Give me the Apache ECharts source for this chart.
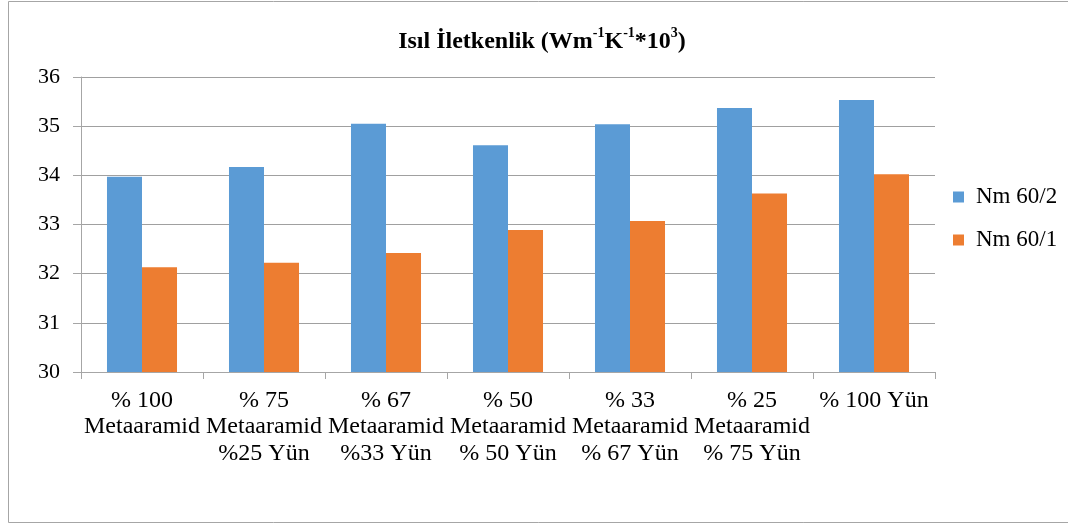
<!DOCTYPE html>
<html>
<head>
<meta charset="utf-8">
<script src="https://cdn.jsdelivr.net/npm/echarts@6/dist/echarts.min.js"></script>
<style>
html,body{margin:0;padding:0;background:#fff;}
#c{width:1068px;height:525px;}
</style>
</head>
<body>
<div id="c"></div>
<script>
const categories = [
  "% 100\nMetaaramid",
  "% 75\nMetaaramid\n%25 Yün",
  "% 67\nMetaaramid\n%33 Yün",
  "% 50\nMetaaramid\n% 50 Yün",
  "% 33\nMetaaramid\n% 67 Yün",
  "% 25\nMetaaramid\n% 75 Yün",
  "% 100 Yün"
];
const seriesNames = ["Nm 60/2", "Nm 60/1"];
const nm602 = [33.97, 34.17, 35.05, 34.61, 35.04, 35.37, 35.53];
const nm601 = [32.13, 32.22, 32.42, 32.89, 33.07, 33.63, 34.02];
const yTicks = { min: 30, max: 36, interval: 1 };

const font = "'Liberation Serif', 'Times New Roman', serif";
const chart = echarts.init(document.getElementById('c'));
chart.setOption({
  backgroundColor: '#fff',
  animation: false,
  textStyle: { fontFamily: font },
  graphic: [{
    type: 'rect',
    shape: { x: 8.5, y: 1.5, width: 1080, height: 521 },
    style: { fill: 'none', stroke: '#a6a6a6', lineWidth: 1 },
    silent: true
  }],
  title: {
    text: '{b|Isıl İletkenlik (Wm}{s|-1}{b|K}{s|-1}{b|*10}{s|3}{b|)}',
    left: 537,
    textAlign: 'center',
    top: 21,
    textStyle: {
      rich: {
        b: { fontFamily: font, fontWeight: 'bold', fontSize: 24, color: '#000', lineHeight: 28, verticalAlign: 'bottom' },
        s: { fontFamily: font, fontWeight: 'bold', fontSize: 14, color: '#000', lineHeight: 28, verticalAlign: 'top', padding: [0, 0, 5, 0] }
      }
    }
  },
  legend: {
    orient: 'vertical',
    left: 948,
    top: 180,
    itemWidth: 11,
    itemHeight: 11,
    itemGap: 19,
    icon: 'rect',
    data: seriesNames,
    textStyle: { fontFamily: font, fontSize: 23, color: '#000', padding: [0, 0, 0, 7], lineHeight: 24 }
  },
  grid: { left: 81, right: 133, top: 77, bottom: 153, containLabel: false },
  xAxis: {
    type: 'category',
    data: categories,
    axisLine: { lineStyle: { color: '#a6a6a6', width: 1 } },
    axisTick: { show: true, alignWithLabel: false, length: 7, lineStyle: { color: '#a6a6a6' } },
    axisLabel: { fontFamily: font, fontSize: 24, color: '#000', lineHeight: 26.5, margin: 15, interval: 0 }
  },
  yAxis: {
    type: 'value',
    min: yTicks.min,
    max: yTicks.max,
    interval: yTicks.interval,
    axisLine: { show: true, lineStyle: { color: '#a6a6a6', width: 1 } },
    axisTick: { show: true, length: 8, lineStyle: { color: '#a6a6a6' } },
    axisLabel: { fontFamily: font, fontSize: 22, color: '#000', margin: 21 },
    splitLine: { show: true, lineStyle: { color: '#a0a0a0', width: 1 } }
  },
  series: [
    { name: seriesNames[0], type: 'bar', data: nm602, barGap: '0%', barCategoryGap: '42.6%', itemStyle: { color: '#5b9bd5' } },
    { name: seriesNames[1], type: 'bar', data: nm601, itemStyle: { color: '#ed7d31' } }
  ]
});
</script>
</body>
</html>
